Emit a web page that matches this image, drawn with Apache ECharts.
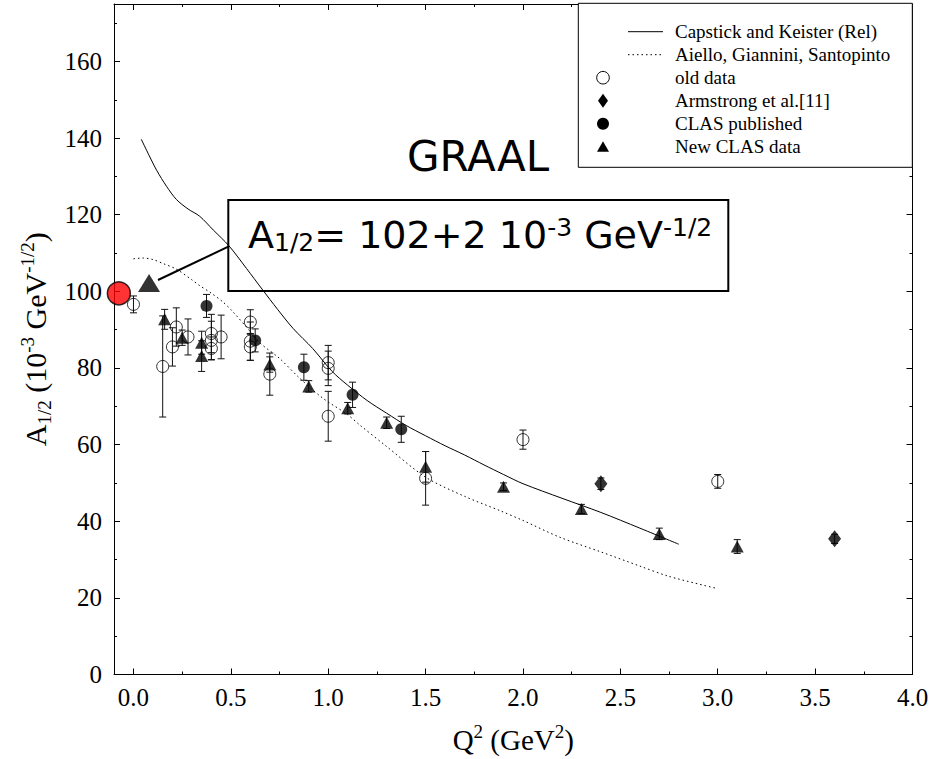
<!DOCTYPE html>
<html><head><meta charset="utf-8">
<script src="https://cdn.jsdelivr.net/npm/echarts@6/dist/echarts.min.js"></script>
<style>html,body{margin:0;padding:0;background:#fff}#c{width:942px;height:759px}</style>
</head><body><div id="c"></div>
<script>
// ---- tick labels ----
const xTicks = [0, 0.5, 1, 1.5, 2, 2.5, 3, 3.5, 4];
const xMinorTicks = [0.25, 0.75, 1.25, 1.75, 2.25, 2.75, 3.25, 3.75];
const yTicks = [0, 20, 40, 60, 80, 100, 120, 140, 160];
const yMinorTicks = [10, 30, 50, 70, 90, 110, 130, 150, 170];

// ---- legend entries ----
const legendNames = ['Capstick and Keister (Rel)', 'Aiello, Giannini, Santopinto', 'old data',
  'Armstrong et al.[11]', 'CLAS published', 'New CLAS data'];

// ---- theory curves ----
const capstickX = [0.04,0.08,0.12,0.17,0.22,0.28,0.34,0.41,0.49,0.58,0.66,0.74,0.82,0.92,1.02,1.1,1.2,1.3,1.4,1.5,1.6,1.7,1.8,1.9,2.0,2.2,2.4,2.6,2.8];
const capstickY = [139.7,135.5,131.5,127.4,124,121.5,119.6,116,111.9,106,100.6,95.3,90.3,85.1,79.1,75.5,71.5,68.2,65,62.3,59.7,57.3,54.7,52.2,49.8,46,42.3,38.2,34];
const aielloX = [0,0.05,0.1,0.15,0.22,0.3,0.34,0.4,0.46,0.51,0.6,0.65,0.75,0.85,0.97,1.1,1.16,1.3,1.5,1.7,1.88,2.0,2.19,2.4,2.6,2.75,3.0];
const aielloY = [108.5,108.7,108.3,107.3,105.8,103,101.5,99.5,97.2,94.7,89.5,86.5,82.5,77.5,72.2,67.8,65.2,59.5,51.5,46.5,42.8,40.2,35.8,32,28.3,25.6,22.4];

// ---- data points [Q2, A1/2, error] ----
const oldData = [
  [0.0,96.6,2.2],[0.15,80.4,13.2],[0.22,90.7,5],[0.2,85.5,5],[0.28,88.1,4.7],
  [0.4,89.0,5],[0.4,87.2,5],[0.4,85.1,3],[0.45,88.1,5.7],
  [0.6,92.0,3.2],[0.6,87.0,5],[0.6,85.5,3.5],[0.7,78.4,5.5],
  [1.0,81.4,4.5],[1.0,79.9,4.5],[1.0,67.4,6.5],[1.5,51.2,7],[2.0,61.3,2.5],[3.0,50.4,1.8]
];
const armstrongData = [[2.4,49.8,1.5],[3.6,35.4,1.2]];
const clasPubData = [[0.375,96.2,3],[0.625,87.2,3],[0.875,80.2,3.4],[1.125,73.0,3.3],[1.375,64.0,3.4]];
const newClasData = [
  [0.16,92.7,2.6],[0.25,87.9,2],[0.35,86.6,3],[0.35,83.1,4],[0.7,80.9,2],[0.9,75.2,1.5],
  [1.1,69.5,1.5],[1.3,65.7,1.5],[1.5,54.2,4],[1.9,49.0,1],[2.3,43.2,1.2],[2.7,36.7,1.5],[3.1,33.4,1.8]
];
const graalCircle = [[-0.075, 99.5]];
const graalTriangle = [[0.08, 102.2]];

const serif = 'Liberation Serif';
const black = '#000';
const axisLineStyle = {color: black, width: 1};

function xAxisDef(pos, ticks, len, showLine, showLabel, extra) {
  return Object.assign({
    type: 'value', position: pos, min: -0.1, max: 4,
    axisLine: {show: showLine, onZero: false, lineStyle: axisLineStyle},
    axisTick: {show: true, inside: true, length: len, customValues: ticks, lineStyle: axisLineStyle},
    axisLabel: showLabel ? {show: true, customValues: ticks, formatter: v => v.toFixed(1),
      fontFamily: serif, fontSize: 25, color: black, margin: 10} : {show: false},
    splitLine: {show: false}
  }, extra || {});
}
function yAxisDef(pos, ticks, len, showLine, showLabel, extra) {
  return Object.assign({
    type: 'value', position: pos, min: 0, max: 175,
    axisLine: {show: showLine, onZero: false, lineStyle: axisLineStyle},
    axisTick: {show: true, inside: true, length: len, customValues: ticks, lineStyle: axisLineStyle},
    axisLabel: showLabel ? {show: true, customValues: ticks, formatter: v => String(v),
      fontFamily: serif, fontSize: 25, color: black, margin: 12} : {show: false},
    splitLine: {show: false}
  }, extra || {});
}

function errSeries(name, data) {
  return {
    type: 'custom', name: name, silent: true, z: 2,
    data: data.map(d => [d[0], d[1] - d[2], d[1] + d[2]]),
    encode: {x: 0, y: [1, 2]},
    renderItem: function (params, api) {
      const x = api.value(0);
      const lo = api.coord([x, api.value(1)]);
      const hi = api.coord([x, api.value(2)]);
      const c = 3.5;
      const st = {stroke: '#111', lineWidth: 1};
      return {type: 'group', children: [
        {type: 'line', shape: {x1: lo[0], y1: lo[1], x2: hi[0], y2: hi[1]}, style: st},
        {type: 'line', shape: {x1: lo[0] - c, y1: lo[1], x2: lo[0] + c, y2: lo[1]}, style: st},
        {type: 'line', shape: {x1: hi[0] - c, y1: hi[1], x2: hi[0] + c, y2: hi[1]}, style: st}
      ]};
    }
  };
}
const pts = d => d.map(p => [p[0], p[1]]);
const zip = (xs, ys) => xs.map((x, i) => [x, ys[i]]);

// ---- legend (drawn as graphic, box at top right of plot) ----
const LX = 578.3, LY = 3.3, LW = 334, LH = 164;
const rowY = i => 31.7 + i * 23;
const symX = 603, lineX1 = 628, lineX2 = 663, textX = 675;
const legendGraphics = [
  {type: 'rect', z: 10, shape: {x: LX, y: LY, width: LW, height: LH}, style: {fill: '#fff', stroke: black, lineWidth: 1}},
  {type: 'line', z: 11, shape: {x1: lineX1, y1: rowY(0), x2: lineX2, y2: rowY(0)}, style: {stroke: black, lineWidth: 1}},
  {type: 'line', z: 11, shape: {x1: lineX1, y1: rowY(1), x2: lineX2, y2: rowY(1)}, style: {stroke: black, lineWidth: 1, lineDash: [1.5, 3]}},
  {type: 'circle', z: 11, shape: {cx: symX, cy: rowY(2), r: 6.3}, style: {fill: 'none', stroke: black, lineWidth: 1}},
  {type: 'polygon', z: 11, shape: {points: [[symX, rowY(3) - 7], [symX + 5, rowY(3)], [symX, rowY(3) + 7], [symX - 5, rowY(3)]]}, style: {fill: black}},
  {type: 'circle', z: 11, shape: {cx: symX, cy: rowY(4), r: 6}, style: {fill: black}},
  {type: 'polygon', z: 11, shape: {points: [[symX, rowY(5) - 5.5], [symX + 6, rowY(5) + 5], [symX - 6, rowY(5) + 5]]}, style: {fill: black}}
].concat(legendNames.map((n, i) => ({
  type: 'text', z: 11, x: textX, y: rowY(i),
  style: {text: n, fontFamily: serif, fontSize: 19, fill: black, align: 'left', verticalAlign: 'middle'}
})));

const chart = echarts.init(document.getElementById('c'), null, {renderer: 'svg'});
chart.setOption({
  animation: false,
  backgroundColor: '#fff',
  grid: {left: 114, right: 29.5, top: 4, bottom: 80.7, containLabel: false},
  xAxis: [
    xAxisDef('bottom', xTicks, 6, true, true, {
      name: '{a|Q}{p|2}{a| (GeV}{p|2}{a|)}', nameLocation: 'middle', nameGap: 47,
      nameTextStyle: {rich: {
        a: {fontFamily: serif, fontSize: 29, color: black, lineHeight: 36},
        p: {fontFamily: serif, fontSize: 19, color: black, lineHeight: 26, verticalAlign: 'top'}
      }}
    }),
    xAxisDef('bottom', xMinorTicks, 3, false, false),
    xAxisDef('top', xTicks, 6, true, false),
    xAxisDef('top', xMinorTicks, 3, false, false)
  ],
  yAxis: [
    yAxisDef('left', yTicks, 6, true, true, {
      name: '{a|A}{s|1/2}{a| (10}{p|-3}{a| GeV}{p|-1/2}{a|)}', nameLocation: 'middle', nameGap: 55,
      nameTextStyle: {rich: {
        a: {fontFamily: serif, fontSize: 30, color: black, lineHeight: 36},
        s: {fontFamily: serif, fontSize: 19, color: black, lineHeight: 16, verticalAlign: 'bottom'},
        p: {fontFamily: serif, fontSize: 19, color: black, lineHeight: 26, verticalAlign: 'top'}
      }}
    }),
    yAxisDef('left', yMinorTicks, 3, false, false),
    yAxisDef('right', yTicks, 6, true, false),
    yAxisDef('right', yMinorTicks, 3, false, false)
  ],
  graphic: legendGraphics.concat([
    {type: 'text', z: 5, x: 478, y: 156,
      style: {text: 'GRAAL', fontFamily: 'DejaVu Sans', fontSize: 42, fill: black,
        align: 'center', verticalAlign: 'middle'}},
    {type: 'rect', z: 5, shape: {x: 228.3, y: 200, width: 500, height: 91},
      style: {fill: 'none', stroke: black, lineWidth: 2}},
    {type: 'text', z: 5, x: 248, y: 215,
      style: {
        text: '{a|A}{s|1/2}{a|= 102+2 10}{p|-3}{a| GeV}{p|-1/2}',
        align: 'left', verticalAlign: 'top',
        rich: {
          a: {fontFamily: 'DejaVu Sans', fontSize: 38, fill: black, lineHeight: 40},
          s: {fontFamily: 'DejaVu Sans', fontSize: 25, fill: black, lineHeight: 14, verticalAlign: 'bottom'},
          p: {fontFamily: 'DejaVu Sans', fontSize: 25, fill: black, lineHeight: 28, verticalAlign: 'top'}
        }
      }},
    {type: 'line', z: 5, shape: {x1: 228.3, y1: 246.7, x2: 158, y2: 280},
      style: {stroke: black, lineWidth: 2}}
  ]),
  series: [
    {type: 'line', name: legendNames[0], data: zip(capstickX, capstickY),
      symbol: 'none', smooth: 0.3, lineStyle: {color: black, width: 1}, itemStyle: {color: black}, z: 1},
    {type: 'line', name: legendNames[1], data: zip(aielloX, aielloY),
      symbol: 'none', smooth: 0.3, lineStyle: {color: black, width: 1, type: [1.5, 3]}, itemStyle: {color: black}, z: 1},
    errSeries('old data err', oldData),
    errSeries('Armstrong err', armstrongData),
    errSeries('CLAS published err', clasPubData),
    errSeries('New CLAS err', newClasData),
    {type: 'scatter', name: legendNames[2], data: pts(oldData), symbol: 'circle', symbolSize: 12, z: 3,
      itemStyle: {color: 'rgba(0,0,0,0)', borderColor: black, borderWidth: 1}},
    {type: 'scatter', name: legendNames[3], data: pts(armstrongData), symbol: 'diamond', symbolSize: [13, 17], z: 3,
      itemStyle: {color: black}},
    {type: 'scatter', name: legendNames[4], data: pts(clasPubData), symbol: 'circle', symbolSize: 12, z: 3,
      itemStyle: {color: black}},
    {type: 'scatter', name: legendNames[5], data: pts(newClasData), symbol: 'triangle', symbolSize: [13, 12], z: 3,
      itemStyle: {color: black}},
    {type: 'scatter', name: 'GRAAL', data: graalCircle, symbol: 'circle', symbolSize: 23, z: 4,
      itemStyle: {color: '#ff0000', borderColor: black, borderWidth: 1.5}},
    {type: 'scatter', name: 'GRAAL triangle', data: graalTriangle, symbol: 'triangle', symbolSize: [22, 18], z: 4,
      itemStyle: {color: black}}
  ]
});
</script></body></html>
